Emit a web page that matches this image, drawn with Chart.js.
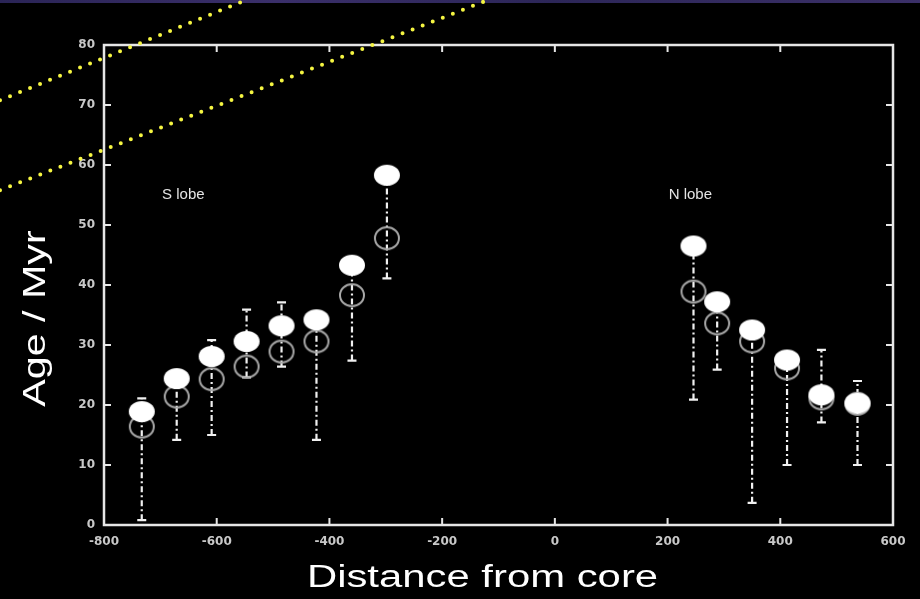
<!DOCTYPE html>
<html><head><meta charset="utf-8">
<script src="https://cdn.jsdelivr.net/npm/chart.js@4.4.1/dist/chart.umd.min.js"></script>
<style>html,body{margin:0;padding:0;background:#000;overflow:hidden}#wrap{width:920px;height:599px;position:relative}</style>
</head><body><div id="wrap"><canvas id="c"></canvas></div>
<script>
// ---- data ----
const xTickValues = [-800, -600, -400, -200, 0, 200, 400, 600];
const yTickValues = [0, 10, 20, 30, 40, 50, 60, 70, 80];

const sDistance   = [-733, -671, -609, -547, -485, -423, -360, -298];
const sAgeFilled  = [18.9, 24.4, 28.1, 30.6, 33.2, 34.2, 43.3, 58.3];
const sAgeOpen    = [16.4, 21.4, 24.3, 26.4, 28.9, 30.6, 38.3, 47.8];
const sErrHigh    = [21.1, 24.4, 30.8, 35.9, 37.1, 34.2, 43.3, 58.3];
const sErrLow     = [0.8, 14.2, 15.0, 24.6, 26.4, 14.2, 27.4, 41.1];

const nDistance   = [246, 288, 350, 412, 473, 537];
const nAgeFilled  = [46.5, 37.2, 32.5, 27.5, 21.7, 20.3];
const nAgeOpen    = [38.9, 33.6, 30.6, 26.1, 21.1, 20.2];
const nErrHigh    = [46.5, 37.2, 32.5, 27.5, 29.2, 24.0];
const nErrLow     = [20.9, 25.9, 3.7, 10.0, 17.1, 10.0];

const lobeLabels = [{text: 'S lobe', x: -697, y: 55}, {text: 'N lobe', x: 202, y: 55}];
// yellow dotted slide annotation lines (in data units, extend beyond the axes)
const dottedLines = [
  [{x: -984.5, y: 70.8}, {x: -548.0, y: 87.5}],
  [{x: -984.5, y: 55.8}, {x: -118.6, y: 87.5}]
];
const xTitle = 'Distance from core';
const yTitle = 'Age / Myr';

// ---- helpers ----
function toPoints(xs, ys) { return xs.map((x, i) => ({x: x, y: ys[i]})); }
function ellipseImage(w, h, fill, stroke, lw) {
  const c = document.createElement('canvas');
  c.width = w + 4; c.height = h + 4;
  const g = c.getContext('2d');
  g.beginPath();
  g.ellipse(c.width / 2, c.height / 2, w / 2 - (stroke ? lw / 2 : 0), h / 2 - (stroke ? lw / 2 : 0), 0, 0, Math.PI * 2);
  if (fill) { g.fillStyle = fill; g.fill(); }
  if (stroke) { g.strokeStyle = stroke; g.lineWidth = lw; g.stroke(); }
  return c;
}
const filledImg = ellipseImage(26, 21, '#ffffff', null, 0);
const openImg = ellipseImage(26, 24, null, '#a8a8a8', 2);

const bgPlugin = {
  id: 'bg',
  beforeDraw(chart) {
    const ctx = chart.ctx;
    ctx.save();
    ctx.fillStyle = '#000';
    ctx.fillRect(0, 0, chart.width, chart.height);
    const grd = ctx.createLinearGradient(0, 0, chart.width, 0);
    grd.addColorStop(0, '#2a2456'); grd.addColorStop(0.3, '#3a2f6a');
    grd.addColorStop(0.6, '#2c2658'); grd.addColorStop(1, '#3b3068');
    ctx.fillStyle = grd;
    ctx.fillRect(0, 0, chart.width, 3);
    ctx.restore();
  }
};

const errPlugin = {
  id: 'errbars',
  beforeDatasetsDraw(chart) {
    const ctx = chart.ctx, xs = chart.scales.x, ys = chart.scales.y;
    const groups = [[sDistance, sErrLow, sErrHigh], [nDistance, nErrLow, nErrHigh]];
    ctx.save();
    ctx.strokeStyle = '#f0f0f0';
    groups.forEach(([d, lo, hi]) => {
      d.forEach((v, i) => {
        const px = xs.getPixelForValue(v);
        const y1 = ys.getPixelForValue(lo[i]);
        const y2 = ys.getPixelForValue(hi[i]);
        ctx.lineWidth = 2.2;
        ctx.setLineDash([6, 3, 2, 3]);
        ctx.beginPath(); ctx.moveTo(px, y1); ctx.lineTo(px, y2); ctx.stroke();
        ctx.setLineDash([]);
        ctx.beginPath();
        ctx.moveTo(px - 4.5, y1); ctx.lineTo(px + 4.5, y1);
        ctx.moveTo(px - 4.5, y2); ctx.lineTo(px + 4.5, y2);
        ctx.stroke();
      });
    });
    ctx.restore();
  }
};

function stretchedText(ctx, text, x, y, rot, sx, font, color) {
  ctx.save();
  ctx.translate(x, y); ctx.rotate(rot); ctx.scale(sx, 1);
  ctx.font = font; ctx.fillStyle = color;
  ctx.textAlign = 'center'; ctx.textBaseline = 'alphabetic';
  ctx.fillText(text, 0, 0);
  ctx.restore();
}

const framePlugin = {
  id: 'frame',
  afterDraw(chart) {
    const ctx = chart.ctx, a = chart.chartArea, xs = chart.scales.x, ys = chart.scales.y;
    ctx.save();
    // frame
    ctx.strokeStyle = '#e6e6e6';
    ctx.lineWidth = 2.5;
    ctx.strokeRect(a.left, a.top, a.right - a.left, a.bottom - a.top);
    // inner ticks on all four sides
    ctx.lineWidth = 2;
    ctx.beginPath();
    xs.ticks.forEach((t, i) => {
      const px = xs.getPixelForTick(i);
      ctx.moveTo(px, a.bottom); ctx.lineTo(px, a.bottom - 7);
      ctx.moveTo(px, a.top); ctx.lineTo(px, a.top + 7);
    });
    ys.ticks.forEach((t, i) => {
      const py = ys.getPixelForTick(i);
      ctx.moveTo(a.left, py); ctx.lineTo(a.left + 7, py);
      ctx.moveTo(a.right, py); ctx.lineTo(a.right - 7, py);
    });
    ctx.stroke();
    // lobe labels
    ctx.fillStyle = '#e4e4e4';
    ctx.font = '15px "Liberation Sans", Arial, sans-serif';
    ctx.textAlign = 'left'; ctx.textBaseline = 'middle';
    lobeLabels.forEach(l => ctx.fillText(l.text, xs.getPixelForValue(l.x), ys.getPixelForValue(l.y)));
    // axis titles
    stretchedText(ctx, xTitle, 482.5, 587, 0, 1.35, '31px "Liberation Sans", Arial, sans-serif', '#ffffff');
    stretchedText(ctx, yTitle, 45, 318.5, -Math.PI / 2, 1.33, '31px "Liberation Sans", Arial, sans-serif', '#ffffff');
    // yellow dotted lines
    ctx.strokeStyle = '#f5f542';
    ctx.lineWidth = 4;
    ctx.lineCap = 'round';
    ctx.setLineDash([0, 10.8]);
    dottedLines.forEach(([p, q]) => {
      ctx.beginPath();
      ctx.moveTo(xs.getPixelForValue(p.x), ys.getPixelForValue(p.y));
      ctx.lineTo(xs.getPixelForValue(q.x), ys.getPixelForValue(q.y));
      ctx.stroke();
    });
    ctx.restore();
  }
};

const tickFont = {family: '"DejaVu Sans", sans-serif', size: 12, weight: 'bold'};

new Chart(document.getElementById('c'), {
  type: 'scatter',
  data: {
    datasets: [
      {label: 'S lobe', data: toPoints(sDistance, sAgeFilled), pointStyle: filledImg, pointRadius: 12, order: 0},
      {label: 'N lobe', data: toPoints(nDistance, nAgeFilled), pointStyle: filledImg, pointRadius: 12, order: 0},
      {label: 'S lobe (alt)', data: toPoints(sDistance, sAgeOpen), pointStyle: openImg, pointRadius: 12, order: 1},
      {label: 'N lobe (alt)', data: toPoints(nDistance, nAgeOpen), pointStyle: openImg, pointRadius: 12, order: 1}
    ]
  },
  options: {
    responsive: true,
    maintainAspectRatio: false,
    animation: false,
    layout: {padding: {top: 45, right: 27, left: 0, bottom: 0}},
    plugins: {legend: {display: false}, tooltip: {enabled: false}},
    scales: {
      x: {
        type: 'linear', min: -800, max: 600,
        afterBuildTicks(s) { s.ticks = xTickValues.map(v => ({value: v})); },
        afterFit(s) { s.height = 74; },
        grid: {display: true, drawOnChartArea: false, drawTicks: false},
        border: {display: false},
        ticks: {color: '#c8c8c8', font: tickFont, padding: 10, maxRotation: 0, autoSkip: false}
      },
      y: {
        type: 'linear', min: 0, max: 80,
        afterBuildTicks(s) { s.ticks = yTickValues.map(v => ({value: v})); },
        afterFit(s) { s.width = 104; },
        grid: {display: true, drawOnChartArea: false, drawTicks: false},
        border: {display: false},
        ticks: {color: '#c8c8c8', font: tickFont, padding: 9, autoSkip: false}
      }
    }
  },
  plugins: [bgPlugin, errPlugin, framePlugin]
});
</script>
</body></html>
